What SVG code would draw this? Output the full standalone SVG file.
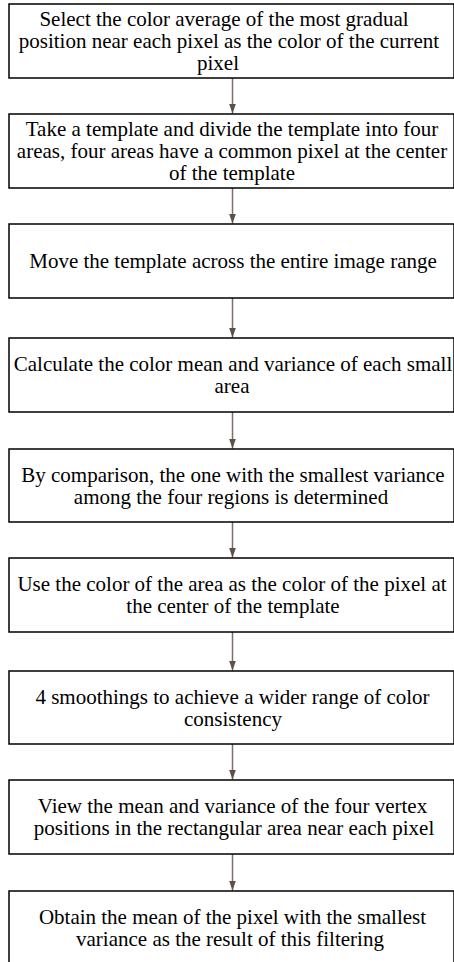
<svg xmlns="http://www.w3.org/2000/svg" width="454" height="962" viewBox="0 0 454 962">
<defs>
<style>
.box{fill:#fff;stroke:#000;stroke-width:1.5}
.c{stroke:#7d6e69;stroke-width:1.5;fill:none}
text{font-family:"Liberation Serif","Times New Roman",Times,"DejaVu Serif",serif;font-size:21px;fill:#000;text-anchor:middle}
</style>
<marker id="ah" viewBox="0 0 10 10" refX="10" refY="5" markerWidth="10" markerHeight="10" markerUnits="userSpaceOnUse" orient="auto">
<path d="M0,1.5 L10,5 L0,8.5 Z" fill="#5e4f4a"/>
</marker>
</defs>
<rect width="454" height="962" fill="#fff"/>
<g id="connectors">
<line class="c" x1="232.5" y1="78" x2="232.5" y2="113.5" marker-end="url(#ah)"/>
<line class="c" x1="232.5" y1="188" x2="232.5" y2="223.5" marker-end="url(#ah)"/>
<line class="c" x1="232.5" y1="298" x2="232.5" y2="337.5" marker-end="url(#ah)"/>
<line class="c" x1="232.5" y1="412" x2="232.5" y2="448.5" marker-end="url(#ah)"/>
<line class="c" x1="232.5" y1="522" x2="232.5" y2="557.5" marker-end="url(#ah)"/>
<line class="c" x1="232.5" y1="632" x2="232.5" y2="670.5" marker-end="url(#ah)"/>
<line class="c" x1="232.5" y1="744" x2="232.5" y2="779.5" marker-end="url(#ah)"/>
<line class="c" x1="232.5" y1="854" x2="232.5" y2="890.5" marker-end="url(#ah)"/>
</g>
<g id="n1"><rect class="box" x="9" y="4" width="445" height="74"/>
<text><tspan x="224" y="26">Select the color average of the most gradual</tspan><tspan x="229" y="48">position near each pixel as the color of the current</tspan><tspan x="218" y="70">pixel</tspan></text></g>
<g id="n2"><rect class="box" x="9" y="114" width="445" height="74"/>
<text><tspan x="232" y="136">Take a template and divide the template into four</tspan><tspan x="232" y="158">areas, four areas have a common pixel at the center</tspan><tspan x="232" y="180">of the template</tspan></text></g>
<g id="n3"><rect class="box" x="9" y="224" width="445" height="74"/>
<text x="233" y="268">Move the template across the entire image range</text></g>
<g id="n4"><rect class="box" x="9" y="338" width="445" height="74"/>
<text><tspan x="233" y="371">Calculate the color mean and variance of each small</tspan><tspan x="232" y="393">area</tspan></text></g>
<g id="n5"><rect class="box" x="9" y="449" width="445" height="73"/>
<text><tspan x="233" y="481.5">By comparison, the one with the smallest variance</tspan><tspan x="231" y="503.5">among the four regions is determined</tspan></text></g>
<g id="n6"><rect class="box" x="9" y="558" width="445" height="74"/>
<text><tspan x="232" y="591">Use the color of the area as the color of the pixel at</tspan><tspan x="233" y="613">the center of the template</tspan></text></g>
<g id="n7"><rect class="box" x="9" y="671" width="445" height="73"/>
<text><tspan x="232.5" y="703.5">4 smoothings to achieve a wider range of color</tspan><tspan x="233" y="725.5">consistency</tspan></text></g>
<g id="n8"><rect class="box" x="9" y="780" width="445" height="74"/>
<text><tspan x="232.5" y="813">View the mean and variance of the four vertex</tspan><tspan x="234" y="835">positions in the rectangular area near each pixel</tspan></text></g>
<g id="n9"><rect class="box" x="9" y="891" width="445" height="80"/>
<text><tspan x="232.5" y="924">Obtain the mean of the pixel with the smallest</tspan><tspan x="230" y="946">variance as the result of this filtering</tspan></text></g>
</svg>
